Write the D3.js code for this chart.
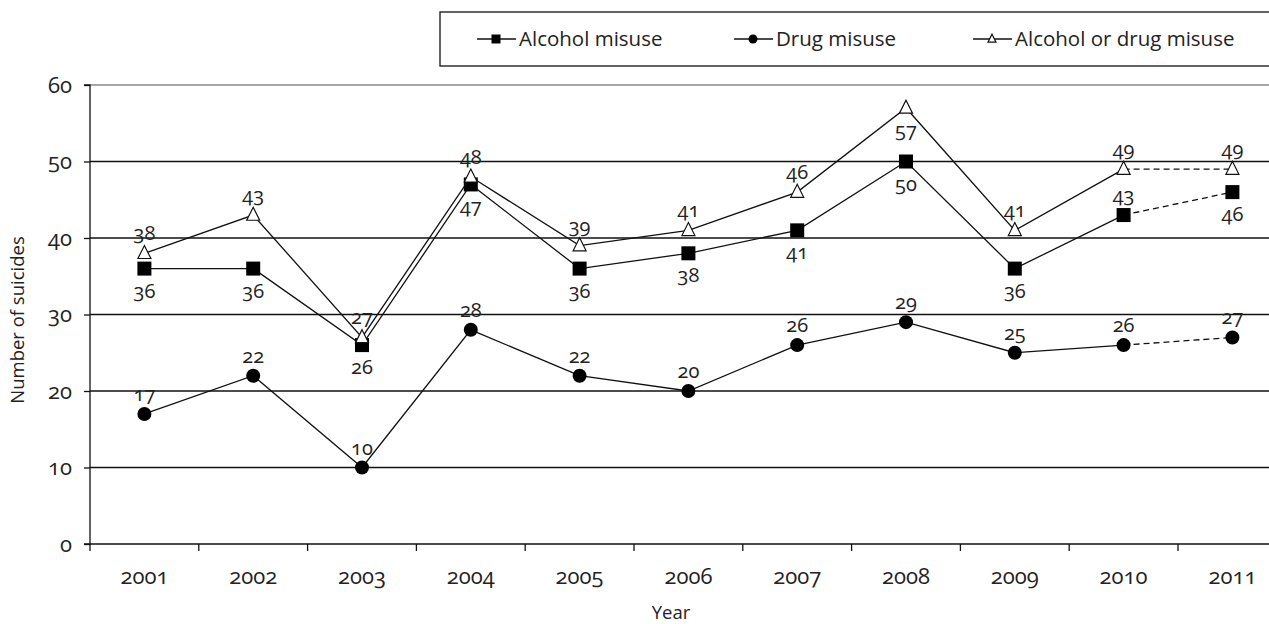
<!DOCTYPE html>
<html><head><meta charset="utf-8">
<script src="https://cdn.jsdelivr.net/npm/d3@7"></script>
<style>
body{margin:0;background:#fff;}
text{font-family:"Open Sans","Noto Sans",sans-serif;fill:#222;font-variant-numeric:oldstyle-nums;}
</style></head>
<body><svg id="c" width="1269" height="624"></svg>
<script>
const years = ["2001","2002","2003","2004","2005","2006","2007","2008","2009","2010","2011"];
const alcohol = [36,36,26,47,36,38,41,50,36,43,46];
const drug = [17,22,10,28,22,20,26,29,25,26,27];
const either = [38,43,27,48,39,41,46,57,41,49,49];
const yTicks = [0,10,20,30,40,50,60];
const seriesNames = ["Alcohol misuse","Drug misuse","Alcohol or drug misuse"];
// label placement: 1 = above, -1 = below
const alcoholPos = [-1,-1,-1,-1,-1,-1,-1,-1,-1,1,-1];
const drugPos = [1,1,1,1,1,1,1,1,1,1,1];
const eitherPos = [1,1,1,1,1,1,1,-1,1,1,1];

const svg = d3.select("#c");
const x = d3.scaleBand().domain(years).range([90, 90 + 11*108.8]);
const y = d3.scaleLinear().domain([0,60]).range([544, 85]);
const cx = d => x(d) + x.bandwidth()/2;

// gridlines
svg.append("g").selectAll("line").data(yTicks.filter(t=>t>0)).join("line")
  .attr("x1",90).attr("x2",1269).attr("y1",d=>y(d)).attr("y2",d=>y(d))
  .attr("stroke",d=>d===60?"#888":"#111").attr("stroke-width",1.3);

// y axis
const ya = svg.append("g").attr("transform","translate(90,0)").call(d3.axisLeft(y).tickValues(yTicks).tickSize(6).tickPadding(12));
ya.select(".domain").attr("stroke","#111").attr("stroke-width",1.3).attr("d","M-6,544H0V85H-6");
ya.selectAll(".tick line").attr("stroke","#111").attr("stroke-width",1.3);
ya.selectAll("text").attr("font-size",22).style("font-family","'Open Sans',sans-serif");

// x axis
const xa = svg.append("g").attr("transform","translate(0,544)");
xa.append("line").attr("x1",90).attr("x2",1269).attr("y1",0).attr("y2",0).attr("stroke","#111").attr("stroke-width",1.3);
xa.selectAll("line.t").data(years.concat(["end"])).join("line").attr("class","t")
  .attr("x1",(d,i)=>90+i*x.step()).attr("x2",(d,i)=>90+i*x.step()).attr("y1",0).attr("y2",7)
  .attr("stroke","#111").attr("stroke-width",1.3);
xa.selectAll("text").data(years).join("text").attr("x",d=>cx(d)).attr("y",40)
  .attr("text-anchor","middle").attr("font-size",22).text(d=>d);

svg.append("text").attr("x",671).attr("y",619).attr("text-anchor","middle").attr("font-size",18.5).text("Year");
svg.append("text").attr("transform","translate(24,320) rotate(-90)").attr("text-anchor","middle").attr("font-size",18.5).text("Number of suicides");

const line = d3.line().x(d=>cx(d.year)).y(d=>y(d.v));
function drawSeries(vals, pos, marker){
  const pts = vals.map((v,i)=>({year:years[i],v,p:pos[i]}));
  const g = svg.append("g");
  g.append("path").attr("d",line(pts.slice(0,10))).attr("fill","none").attr("stroke","#111").attr("stroke-width",1.3);
  g.append("path").attr("d",line(pts.slice(9))).attr("fill","none").attr("stroke","#111").attr("stroke-width",1.3).attr("stroke-dasharray","6,4");
  pts.forEach(p=>{ marker(g, cx(p.year), y(p.v)); });
  g.selectAll("text").data(pts).join("text")
    .attr("x",d=>cx(d.year)).attr("y",d=>y(d.v) + (d.p>0 ? -13 : 29))
    .attr("text-anchor","middle").attr("font-size",20).text(d=>d.v);
}
const sq = (g,X,Y,s=14)=>g.append("rect").attr("x",X-s/2).attr("y",Y-s/2).attr("width",s).attr("height",s).attr("fill","#000");
const ci = (g,X,Y,r=7)=>g.append("circle").attr("cx",X).attr("cy",Y).attr("r",r).attr("fill","#000");
const tri = (g,X,Y,s=13)=>g.append("path").attr("d",`M${X},${Y-s*0.6}L${X+s/2},${Y+s*0.4}L${X-s/2},${Y+s*0.4}Z`).attr("fill","#fff").attr("stroke","#111").attr("stroke-width",1.2);

drawSeries(alcohol, alcoholPos, sq);
drawSeries(drug, drugPos, ci);
drawSeries(either, eitherPos, tri);

// legend
const lg = svg.append("g");
lg.append("rect").attr("x",440).attr("y",12).attr("width",850).attr("height",54).attr("fill","none").attr("stroke","#111").attr("stroke-width",1.3);
const legX = [477, 734, 973];
const markers = [(g,X,Y)=>sq(g,X,Y,9),(g,X,Y)=>ci(g,X,Y,4.5),(g,X,Y)=>tri(g,X,Y,8)];
seriesNames.forEach((n,i)=>{
  lg.append("line").attr("x1",legX[i]).attr("x2",legX[i]+39).attr("y1",39).attr("y2",39).attr("stroke","#111").attr("stroke-width",1.3);
  markers[i](lg, legX[i]+19, 39);
  lg.append("text").attr("x",legX[i]+42).attr("y",46).attr("font-size",20.5).text(n);
});
</script></body></html>
